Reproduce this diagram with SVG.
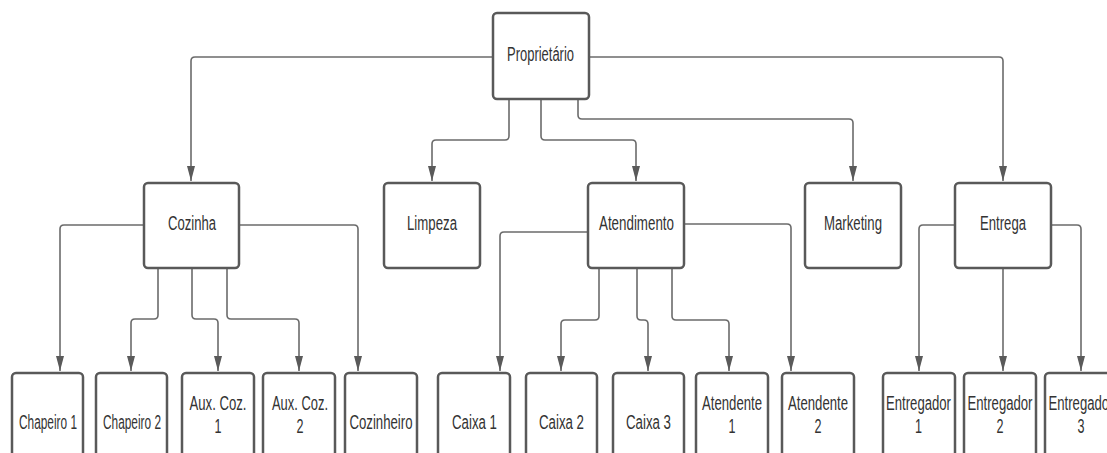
<svg xmlns="http://www.w3.org/2000/svg" width="1107" height="453" viewBox="0 0 1107 453">
<style>
.box{fill:#fff;stroke:#595959;stroke-width:2.5}
.lbl{font-family:"Liberation Sans",Arial,sans-serif;font-size:20px;fill:#333;text-anchor:middle}
.con{fill:none;stroke:#6b6b6b;stroke-width:1.6}
</style>
<defs>
<marker id="ah" markerUnits="userSpaceOnUse" markerWidth="16" markerHeight="10" refX="15" refY="4" orient="auto">
<path d="M0,0 L15,4 L0,8 z" fill="#5a5a5a"/>
</marker>
</defs>
<rect width="1107" height="453" fill="#fff"/>
<g id="connectors" class="con" marker-end="url(#ah)">
<path d="M493,57 H195 Q191,57 191,61 V181"/>
<path d="M589,57 H999 Q1003,57 1003,61 V181"/>
<path d="M509,99 V136 Q509,140 505,140 H436 Q432,140 432,144 V181"/>
<path d="M541,99 V136 Q541,140 545,140 H632 Q636,140 636,144 V181"/>
<path d="M578,99 V115 Q578,119 582,119 H849 Q853,119 853,123 V181"/>
<path d="M144,225 H64 Q60,225 60,229 V371"/>
<path d="M239,225 H354 Q358,225 358,229 V371"/>
<path d="M158,268 V315 Q158,319 154,319 H135 Q131,319 131,323 V371"/>
<path d="M192,268 V315 Q192,319 196,319 H214 Q218,319 218,323 V371"/>
<path d="M227,268 V315 Q227,319 231,319 H295 Q299,319 299,323 V371"/>
<path d="M588,232 H504 Q500,232 500,236 V371"/>
<path d="M684,224 H787 Q791,224 791,228 V371"/>
<path d="M599,268 V316 Q599,320 595,320 H565 Q561,320 561,324 V371"/>
<path d="M637,268 V316 Q637,320 641,320 H644 Q648,320 648,324 V371"/>
<path d="M672,268 V316 Q672,320 676,320 H725 Q729,320 729,324 V371"/>
<path d="M955,225 H923 Q919,225 919,229 V371"/>
<path d="M1003,268 V371"/>
<path d="M1051,225 H1077 Q1081,225 1081,229 V371"/>
</g>
<g id="proprietario"><rect class="box" x="493" y="13" width="96" height="86" rx="4"/><text class="lbl" x="540.5" y="61" textLength="67" lengthAdjust="spacingAndGlyphs">Proprietário</text></g>
<g id="cozinha"><rect class="box" x="144" y="183" width="95" height="85" rx="4"/><text class="lbl" x="192" y="230" textLength="48" lengthAdjust="spacingAndGlyphs">Cozinha</text></g>
<g id="limpeza"><rect class="box" x="384" y="183" width="96" height="85" rx="4"/><text class="lbl" x="432" y="230" textLength="50" lengthAdjust="spacingAndGlyphs">Limpeza</text></g>
<g id="atendimento"><rect class="box" x="588" y="183" width="96" height="85" rx="4"/><text class="lbl" x="636.5" y="230" textLength="75" lengthAdjust="spacingAndGlyphs">Atendimento</text></g>
<g id="marketing"><rect class="box" x="805" y="183" width="96" height="85" rx="4"/><text class="lbl" x="853" y="230" textLength="58" lengthAdjust="spacingAndGlyphs">Marketing</text></g>
<g id="entrega"><rect class="box" x="955" y="183" width="96" height="85" rx="4"/><text class="lbl" x="1003" y="230" textLength="46" lengthAdjust="spacingAndGlyphs">Entrega</text></g>
<g id="chapeiro1"><rect class="box" x="12" y="373" width="71" height="92" rx="4"/><text class="lbl" x="48" y="429" textLength="58" lengthAdjust="spacingAndGlyphs">Chapeiro 1</text></g>
<g id="chapeiro2"><rect class="box" x="96" y="373" width="71" height="92" rx="4"/><text class="lbl" x="132" y="429" textLength="58" lengthAdjust="spacingAndGlyphs">Chapeiro 2</text></g>
<g id="auxcoz1"><rect class="box" x="182" y="373" width="72" height="92" rx="4"/><text class="lbl" x="218" y="410" textLength="57" lengthAdjust="spacingAndGlyphs">Aux. Coz.</text><text class="lbl" x="218" y="433" textLength="7" lengthAdjust="spacingAndGlyphs">1</text></g>
<g id="auxcoz2"><rect class="box" x="263" y="373" width="72" height="92" rx="4"/><text class="lbl" x="300" y="410" textLength="56" lengthAdjust="spacingAndGlyphs">Aux. Coz.</text><text class="lbl" x="300" y="433" textLength="7" lengthAdjust="spacingAndGlyphs">2</text></g>
<g id="cozinheiro"><rect class="box" x="345" y="373" width="72" height="92" rx="4"/><text class="lbl" x="381" y="429" textLength="63" lengthAdjust="spacingAndGlyphs">Cozinheiro</text></g>
<g id="caixa1"><rect class="box" x="438" y="373" width="72" height="92" rx="4"/><text class="lbl" x="474.5" y="429" textLength="45" lengthAdjust="spacingAndGlyphs">Caixa 1</text></g>
<g id="caixa2"><rect class="box" x="526" y="373" width="71" height="92" rx="4"/><text class="lbl" x="561.5" y="429" textLength="45" lengthAdjust="spacingAndGlyphs">Caixa 2</text></g>
<g id="caixa3"><rect class="box" x="613" y="373" width="71" height="92" rx="4"/><text class="lbl" x="648.5" y="429" textLength="45" lengthAdjust="spacingAndGlyphs">Caixa 3</text></g>
<g id="atendente1"><rect class="box" x="696" y="373" width="72" height="92" rx="4"/><text class="lbl" x="732" y="410" textLength="60" lengthAdjust="spacingAndGlyphs">Atendente</text><text class="lbl" x="732" y="433" textLength="7" lengthAdjust="spacingAndGlyphs">1</text></g>
<g id="atendente2"><rect class="box" x="782" y="373" width="72" height="92" rx="4"/><text class="lbl" x="818" y="410" textLength="60" lengthAdjust="spacingAndGlyphs">Atendente</text><text class="lbl" x="818" y="433" textLength="7" lengthAdjust="spacingAndGlyphs">2</text></g>
<g id="entregador1"><rect class="box" x="883" y="373" width="72" height="92" rx="4"/><text class="lbl" x="918.5" y="410" textLength="65" lengthAdjust="spacingAndGlyphs">Entregador</text><text class="lbl" x="918.5" y="433" textLength="7" lengthAdjust="spacingAndGlyphs">1</text></g>
<g id="entregador2"><rect class="box" x="964" y="373" width="72" height="92" rx="4"/><text class="lbl" x="1000" y="410" textLength="65" lengthAdjust="spacingAndGlyphs">Entregador</text><text class="lbl" x="1000" y="433" textLength="7" lengthAdjust="spacingAndGlyphs">2</text></g>
<g id="entregador3"><rect class="box" x="1045" y="373" width="72" height="92" rx="4"/><text class="lbl" x="1081" y="410" textLength="65" lengthAdjust="spacingAndGlyphs">Entregador</text><text class="lbl" x="1081" y="433" textLength="7" lengthAdjust="spacingAndGlyphs">3</text></g>
</svg>
